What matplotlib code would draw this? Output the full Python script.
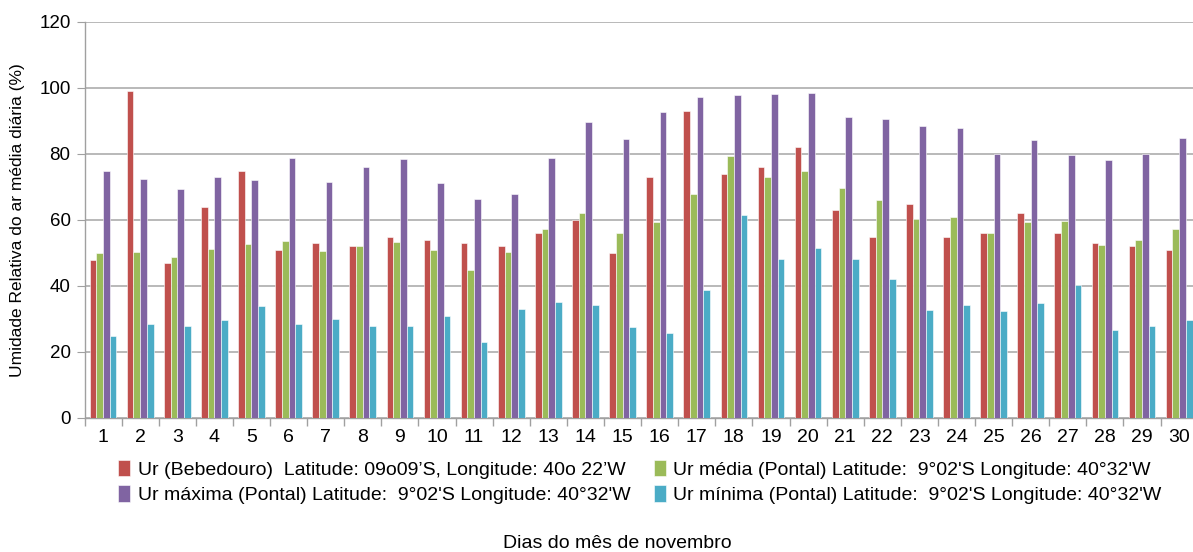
import matplotlib
matplotlib.use("Agg")
import matplotlib.pyplot as plt
import numpy as np
from matplotlib.ticker import FixedLocator

plt.rcParams['font.family'] = ['Liberation Sans Narrow', 'Liberation Sans', 'DejaVu Sans']

days = list(range(1, 31))
ur_bebedouro = [48, 99, 47, 64, 75, 51, 53, 52, 55, 54, 53, 52, 56, 60, 50,
                73, 93, 74, 76, 82, 63, 55, 65, 55, 56, 62, 56, 53, 52, 51]
ur_media = [50, 50.2, 48.8, 51.2, 52.8, 53.5, 50.5, 52, 53.3, 51, 44.8, 50.4, 57.2, 62, 56,
            59.3, 68, 79.5, 73.1, 75, 69.8, 66.2, 60.4, 60.8, 56.2, 59.5, 59.8, 52.5, 53.9, 57.3]
ur_maxima = [74.8, 72.4, 69.3, 72.9, 72.2, 78.8, 71.4, 76, 78.5, 71.1, 66.5, 68, 78.8, 89.8, 84.4,
             92.7, 97.3, 97.8, 98.1, 98.6, 91.1, 90.6, 88.6, 87.8, 80, 84.2, 79.6, 78.3, 80, 84.8]
ur_minima = [25, 28.4, 27.9, 29.8, 33.9, 28.4, 30, 28, 27.9, 31, 23, 33, 35.3, 34.3, 27.6,
             25.8, 38.8, 61.6, 48.2, 51.6, 48.2, 42.1, 32.6, 34.1, 32.3, 34.8, 40.3, 26.8, 27.9, 29.7]

labels = ["Ur (Bebedouro)  Latitude: 09o09\u2019S, Longitude: 40o 22\u2019W",
          "Ur média (Pontal) Latitude:  9°02'S Longitude: 40°32'W",
          "Ur máxima (Pontal) Latitude:  9°02'S Longitude: 40°32'W",
          "Ur mínima (Pontal) Latitude:  9°02'S Longitude: 40°32'W"]
colors = ["#C0504D", "#9BBB59", "#8064A2", "#4BACC6"]
series = [ur_bebedouro, ur_media, ur_maxima, ur_minima]

fig = plt.figure(figsize=(11.93, 5.52), dpi=100)
ax = fig.add_axes([84.5/1193, 134/552, 1113.2/1193, 396/552])

x = np.array(days, dtype=float)
bw = 0.18
handles = []
for i, (vals, col, lab) in enumerate(zip(series, colors, labels)):
    h = ax.bar(x + (i - 1.5) * bw, vals, width=bw, color=col, label=lab,
               edgecolor='white', linewidth=0.4, zorder=3)
    handles.append(h)

ax.set_xlim(0.5, 30.5)
ax.set_ylim(0, 120)
ax.set_yticks(range(0, 121, 20))
ax.set_xticks(days)
ax.xaxis.set_minor_locator(FixedLocator(np.arange(0.5, 31, 1)))
ax.tick_params(axis='x', which='major', length=0, labelsize=14, pad=8, colors='black')
ax.tick_params(axis='x', which='minor', length=6, color='#A0A0A0', width=1)
ax.tick_params(axis='y', length=6, color='#A0A0A0', labelsize=13.5, pad=4)
ax.grid(axis='y', color='#A6A6A6', linewidth=1.1, zorder=0)
for s in ['top', 'right']:
    ax.spines[s].set_visible(False)
for s in ['left', 'bottom']:
    ax.spines[s].set_color('#A0A0A0')
    ax.spines[s].set_linewidth(1)

ax.set_ylabel("Umidade Relativa do ar média diária (%)", fontsize=12.5, labelpad=10)
fig.text(617/1193, 1 - 543/552, "Dias do mês de novembro", ha='center', va='center', fontsize=14)

order = [0, 2, 1, 3]
fig.legend([handles[k] for k in order], [labels[k] for k in order], ncol=2,
           loc='center', bbox_to_anchor=(640/1193, 1 - 482/552), frameon=False,
           fontsize=14, handlelength=0.6, handleheight=0.9, handletextpad=0.4,
           columnspacing=1.2, labelspacing=0.35, borderpad=0)

fig.savefig("out.png", dpi=100)
